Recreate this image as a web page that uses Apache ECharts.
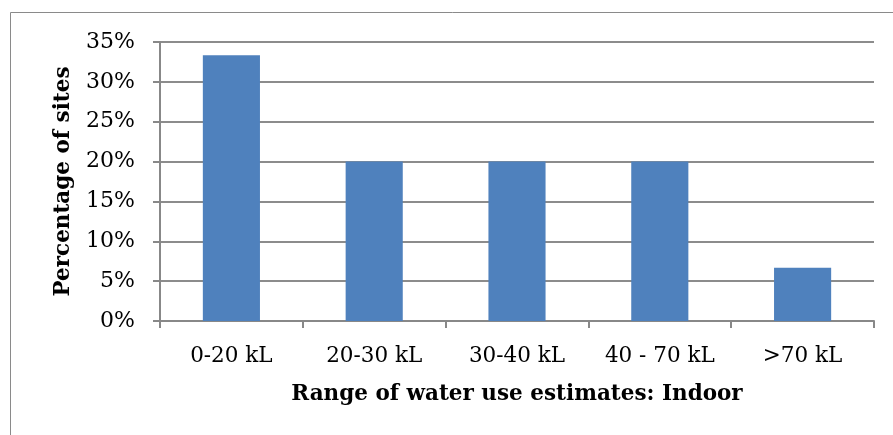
<!DOCTYPE html>
<html><head><meta charset="utf-8">
<script src="https://cdn.jsdelivr.net/npm/echarts@6/dist/echarts.min.js"></script>
<style>html,body{margin:0;padding:0;background:#fff}#c{width:893px;height:435px}</style>
</head><body><div id="c"></div>
<script>
const categories = ['0-20 kL', '20-30 kL', '30-40 kL', '40 - 70 kL', '>70 kL'];
const values = [33.33, 20, 20, 20, 6.67];
const yTicks = { min: 0, max: 35, interval: 5 };
const FONT = '"DejaVu Serif", serif';
const chart = echarts.init(document.getElementById('c'), null, {renderer: 'canvas'});
chart.setOption({
  animation: false,
  backgroundColor: '#fff',
  graphic: [{ type: 'rect', shape: { x: 10.5, y: 12.5, width: 1000, height: 1000 },
    style: { fill: 'none', stroke: '#8a8a8a', lineWidth: 1 }, silent: true, z: -1 }],
  grid: { left: 160, right: 19, top: 42, bottom: 114 },
  xAxis: {
    type: 'category', data: categories,
    axisLine: { lineStyle: { color: '#888', width: 2 } },
    axisTick: { show: true, length: 7, lineStyle: { color: '#888', width: 2 } },
    axisLabel: { fontFamily: FONT, fontSize: 21.5, color: '#000', margin: 24 },
    name: 'Range of water use estimates: Indoor', nameLocation: 'middle', nameGap: 62,
    nameTextStyle: { fontFamily: FONT, fontSize: 21.5, fontWeight: 'bold', color: '#000' }
  },
  yAxis: {
    type: 'value', min: yTicks.min, max: yTicks.max, interval: yTicks.interval,
    axisLine: { show: true, lineStyle: { color: '#888', width: 2 } },
    axisTick: { show: true, length: 7, lineStyle: { color: '#888', width: 2 } },
    splitLine: { lineStyle: { color: '#8c8c8c', width: 2 } },
    axisLabel: { fontFamily: FONT, fontSize: 22, color: '#000', margin: 25, formatter: v => v + '%' },
    name: 'Percentage of sites', nameLocation: 'middle', nameGap: 86,
    nameTextStyle: { fontFamily: FONT, fontSize: 21.5, fontWeight: 'bold', color: '#000' }
  },
  series: [{
    type: 'bar', data: values, barWidth: '40%',
    itemStyle: { color: '#4F81BD' }
  }]
});
</script></body></html>
